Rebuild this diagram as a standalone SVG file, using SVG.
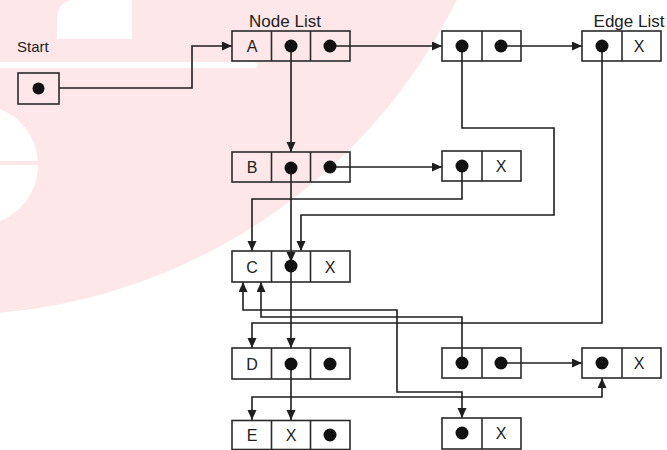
<svg xmlns="http://www.w3.org/2000/svg" width="667" height="450" viewBox="0 0 667 450">
  <style>
    .box { fill: none; stroke: #2a2a2a; stroke-width: 1.6; }
    .div { stroke: #2a2a2a; stroke-width: 1.6; }
    .dot { fill: #111; }
    .cell { font-family: "Liberation Sans", Arial, sans-serif; font-size: 16px; fill: #222; text-anchor: middle; }
    .label { font-family: "Liberation Sans", Arial, sans-serif; font-size: 17px; fill: #222; }
    .wire { fill: none; stroke: #1e1e1e; stroke-width: 1.6; }
    .arrow { marker-end: url(#head); }
    .both { marker-start: url(#head); marker-end: url(#head); }
  </style>
  <defs>
    <marker id="head" markerUnits="userSpaceOnUse" markerWidth="11" markerHeight="10" refX="10" refY="4.5" orient="auto-start-reverse">
      <path d="M0,0 L10,4.5 L0,9 z" fill="#1e1e1e"/>
    </marker>
  </defs>

  <!-- background -->
  <rect width="667" height="450" fill="#ffffff"/>
  <g id="backdrop">
    <circle cx="-50" cy="-250" r="565" fill="#fde7e9"/>
    <path d="M0 62 H254 A3 3 0 0 1 254 68 H0 z" fill="#ffffff"/>
    <path d="M57 0 H132 V39 H57 V20 Q57 0 75 0 z" fill="#ffffff"/>
    <circle cx="-22" cy="165" r="60" fill="#ffffff"/>
    <rect x="0" y="161" width="40" height="4" fill="#fde7e9"/>
  </g>

  <!-- labels -->
  <text class="label" x="17" y="52" style="font-size:15px">Start</text>
  <text class="label" x="285" y="27" text-anchor="middle">Node List</text>
  <text class="label" x="629" y="27" text-anchor="middle">Edge List</text>

  <!-- connectors -->
  <g id="connectors">
    <path class="wire arrow" d="M59 88 H192 V46 H232"/>
    <path class="wire arrow" d="M291 46 V152"/>
    <path class="wire arrow" d="M291 168 V262"/>
    <path class="wire arrow" d="M291 266 V348"/>
    <path class="wire arrow" d="M291 364 V420"/>
    <path class="wire arrow" d="M330 46 H442"/>
    <path class="wire arrow" d="M501 46 H582"/>
    <path class="wire arrow" d="M330 167 H442"/>
    <path class="wire arrow" d="M462 46 V128 H554 V215 H301 V251"/>
    <path class="wire arrow" d="M462 166 V199 H252 V251"/>
    <path class="wire arrow" d="M602 46 V323 H252 V348"/>
    <path class="wire arrow" d="M462 363 V317 H261 V282"/>
    <path class="wire both" d="M243 282 V310 H397 V392 H462 V418"/>
    <path class="wire both" d="M252 420 V397 H602 V378"/>
    <path class="wire arrow" d="M501 363 H582"/>
  </g>

  <!-- start pointer -->
  <g id="start">
    <rect class="box" x="18" y="73" width="41" height="31"/>
    <circle class="dot" cx="38.5" cy="88.5" r="6"/>
  </g>

  <!-- node list -->
  <g id="node-A">
    <rect class="box" x="232" y="31" width="118" height="30"/>
    <line class="div" x1="271.5" y1="31" x2="271.5" y2="61"/>
    <line class="div" x1="310.5" y1="31" x2="310.5" y2="61"/>
    <text class="cell" x="252" y="52">A</text>
    <circle class="dot" cx="291" cy="46" r="6.5"/>
    <circle class="dot" cx="330" cy="46" r="6.5"/>
  </g>
  <g id="node-B">
    <rect class="box" x="232" y="152" width="118" height="30"/>
    <line class="div" x1="271.5" y1="152" x2="271.5" y2="182"/>
    <line class="div" x1="310.5" y1="152" x2="310.5" y2="182"/>
    <text class="cell" x="252" y="173">B</text>
    <circle class="dot" cx="291" cy="168" r="6.5"/>
    <circle class="dot" cx="330" cy="167" r="6.5"/>
  </g>
  <g id="node-C">
    <rect class="box" x="232" y="251" width="118" height="31"/>
    <line class="div" x1="271.5" y1="251" x2="271.5" y2="282"/>
    <line class="div" x1="310.5" y1="251" x2="310.5" y2="282"/>
    <text class="cell" x="252" y="272.5">C</text>
    <circle class="dot" cx="291" cy="266" r="6.5"/>
    <text class="cell" x="330" y="272.5">X</text>
  </g>
  <g id="node-D">
    <rect class="box" x="232" y="348" width="118" height="31"/>
    <line class="div" x1="271.5" y1="348" x2="271.5" y2="379"/>
    <line class="div" x1="310.5" y1="348" x2="310.5" y2="379"/>
    <text class="cell" x="252" y="369.5">D</text>
    <circle class="dot" cx="291" cy="364" r="6.5"/>
    <circle class="dot" cx="330" cy="364" r="6.5"/>
  </g>
  <g id="node-E">
    <rect class="box" x="232" y="420.5" width="118" height="29"/>
    <line class="div" x1="271.5" y1="420.5" x2="271.5" y2="449.5"/>
    <line class="div" x1="310.5" y1="420.5" x2="310.5" y2="449.5"/>
    <text class="cell" x="252" y="441">E</text>
    <text class="cell" x="291" y="441">X</text>
    <circle class="dot" cx="330" cy="435" r="6.5"/>
  </g>

  <!-- edge list -->
  <g id="edge-A1">
    <rect class="box" x="442" y="31" width="79" height="30"/>
    <line class="div" x1="482" y1="31" x2="482" y2="61"/>
    <circle class="dot" cx="462" cy="46" r="6.5"/>
    <circle class="dot" cx="501" cy="46" r="6.5"/>
  </g>
  <g id="edge-A2">
    <rect class="box" x="582" y="31" width="79" height="30"/>
    <line class="div" x1="622" y1="31" x2="622" y2="61"/>
    <circle class="dot" cx="602" cy="46" r="6.5"/>
    <text class="cell" x="639" y="52">X</text>
  </g>
  <g id="edge-B1">
    <rect class="box" x="442" y="151" width="79" height="30"/>
    <line class="div" x1="482" y1="151" x2="482" y2="181"/>
    <circle class="dot" cx="462" cy="166" r="6.5"/>
    <text class="cell" x="501" y="172">X</text>
  </g>
  <g id="edge-D1">
    <rect class="box" x="442" y="348" width="79" height="30"/>
    <line class="div" x1="482" y1="348" x2="482" y2="378"/>
    <circle class="dot" cx="462" cy="363" r="6.5"/>
    <circle class="dot" cx="501" cy="363" r="6.5"/>
  </g>
  <g id="edge-D2">
    <rect class="box" x="582" y="348" width="79" height="30"/>
    <line class="div" x1="622" y1="348" x2="622" y2="378"/>
    <circle class="dot" cx="602" cy="363" r="6.5"/>
    <text class="cell" x="639" y="369">X</text>
  </g>
  <g id="edge-E1">
    <rect class="box" x="442" y="418" width="79" height="31"/>
    <line class="div" x1="482" y1="418" x2="482" y2="449"/>
    <circle class="dot" cx="462" cy="433" r="6.5"/>
    <text class="cell" x="501" y="439">X</text>
  </g>
</svg>
